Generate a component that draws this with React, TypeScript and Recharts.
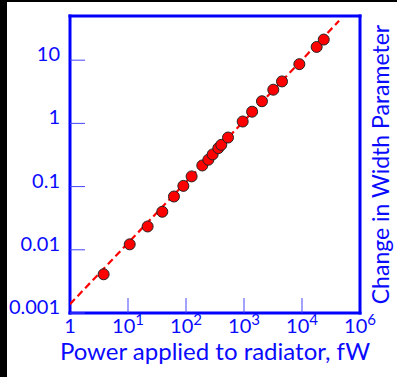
import {
  ScatterChart,
  Scatter,
  XAxis,
  YAxis,
} from 'recharts';

// measured points: power (fW) vs change in width parameter
const power = [3.8, 10.7, 21.8, 39, 62, 90, 125, 191, 243, 288, 361, 406, 530, 949, 1380, 2040, 3200, 4520, 9000, 17900, 23700];
const widthChange = [0.0041, 0.0122, 0.0234, 0.04, 0.0697, 0.1026, 0.145, 0.216, 0.266, 0.323, 0.406, 0.458, 0.597, 1.07, 1.53, 2.24, 3.41, 4.61, 8.65, 16.2, 21.2];

// dashed fit line end points
const fitPower = [1, 43600];
const fitWidth = [0.00138, 42];

const xTicks = [1, 10, 100, 1000, 10000, 100000];
const xTickExponents = [0, 1, 2, 3, 4, 6]; // the original labels the last tick 10^6
const yTicks = [0.001, 0.01, 0.1, 1, 10];
const yTickLabels = ['0.001', '0.01', '0.1', '1', '10'];

const points = power.map((p, i) => ({ x: p, y: widthChange[i] }));
const fit = fitPower.map((p, i) => ({ x: p, y: fitWidth[i] }));

const BLUE = '#0a0aff';
const FONT = 'Lato, "Open Sans", sans-serif';

function PowerTick({ x, y, index }: any) {
  const exp = xTickExponents[index];
  return (
    <text x={x} y={y + 20} textAnchor="middle" fill={BLUE} fontSize={20} fontFamily={FONT}>
      {exp === 0 ? '1' : (
        <>
          10<tspan dy={-8} fontSize={15}>{exp}</tspan>
        </>
      )}
    </text>
  );
}

function WidthTick({ x, y, index }: any) {
  return (
    <text x={x} y={y + 1} textAnchor="end" fill={BLUE} fontSize={20} fontFamily={FONT}>
      {yTickLabels[index]}
    </text>
  );
}

const Dot = (props: any) => (
  <circle cx={props.cx} cy={props.cy} r={5.5} fill="#ff0000" stroke="#222" strokeWidth={1} />
);

const frame = { stroke: '#0000ff', strokeWidth: 3, strokeLinecap: 'square' as const };
const tickStroke = { stroke: '#4646ff', strokeWidth: 1 };

export default function App() {
  return (
    <div style={{ position: 'absolute', left: 0, top: 0, width: 397, height: 377, background: '#000' }}>
      <div style={{ position: 'absolute', left: 7, top: 2, width: 390, height: 375, background: '#fff' }} />
      <div style={{ position: 'absolute', left: 0, top: 0 }}>
        <ScatterChart width={397} height={377} margin={{ top: 0, right: 0, bottom: 0, left: 0 }}>
          <XAxis
            xAxisId="bottom"
            dataKey="x"
            type="number"
            scale="log"
            domain={[1, 100000]}
            allowDataOverflow
            ticks={xTicks}
            interval={0}
            height={64}
            axisLine={frame}
            tickLine={tickStroke}
            tickSize={-15}
            tickMargin={15}
            tick={<PowerTick />}
            label={{
              value: 'Power applied to radiator,  fW',
              position: 'insideBottom',
              offset: 17,
              fill: BLUE,
              fontSize: 24,
              fontFamily: FONT,
            }}
          />
          <XAxis
            xAxisId="top"
            orientation="top"
            dataKey="x"
            type="number"
            scale="log"
            domain={[1, 100000]}
            allowDataOverflow
            ticks={xTicks}
            interval={0}
            height={16}
            axisLine={frame}
            tickLine={tickStroke}
            tickSize={-15}
            tick={false}
          />
          <YAxis
            yAxisId="left"
            dataKey="y"
            type="number"
            scale="log"
            domain={[0.001, 50]}
            allowDataOverflow
            ticks={yTicks}
            interval={0}
            width={70}
            axisLine={frame}
            tickLine={tickStroke}
            tickSize={-15}
            tickMargin={25}
            tick={<WidthTick />}
          />
          <YAxis
            yAxisId="right"
            orientation="right"
            dataKey="y"
            type="number"
            scale="log"
            domain={[0.001, 50]}
            allowDataOverflow
            ticks={yTicks}
            interval={0}
            width={37}
            axisLine={frame}
            tickLine={tickStroke}
            tickSize={-15}
            tick={false}
            label={{
              value: 'Change in Width Parameter',
              angle: -90,
              position: 'center',
              dx: 2,
              fill: BLUE,
              fontSize: 23,
              fontFamily: FONT,
            }}
          />
          <Scatter
            xAxisId="bottom"
            yAxisId="left"
            data={fit}
            line={{ stroke: '#ff0000', strokeWidth: 2.2, strokeDasharray: '7 4' }}
            shape={() => <g />}
            isAnimationActive={false}
          />
          <Scatter
            xAxisId="bottom"
            yAxisId="left"
            data={points}
            shape={Dot}
            isAnimationActive={false}
          />
        </ScatterChart>
      </div>
    </div>
  );
}
